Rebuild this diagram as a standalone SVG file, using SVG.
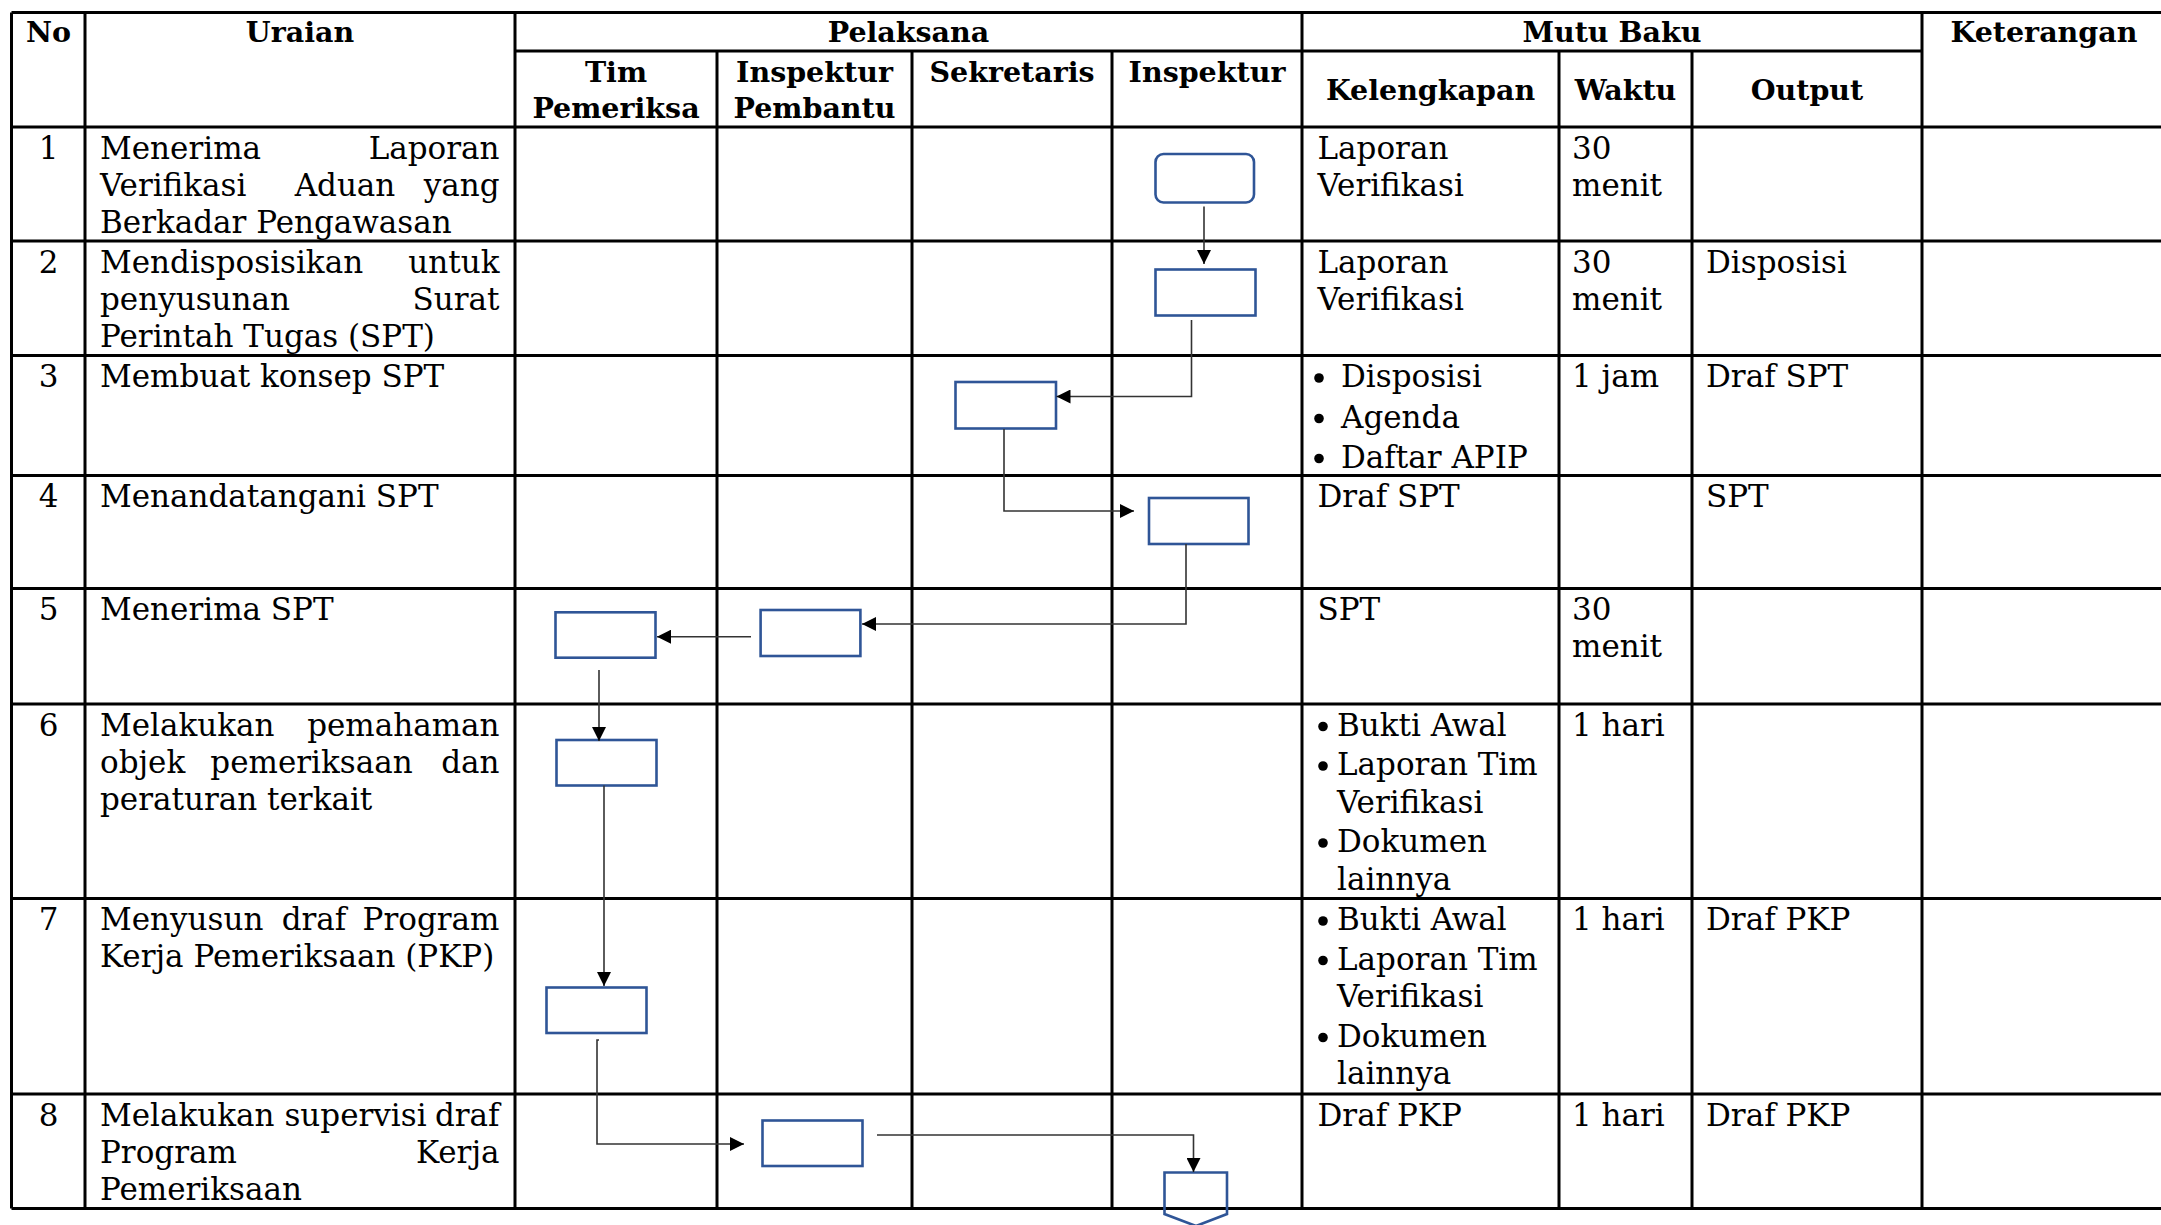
<svg xmlns="http://www.w3.org/2000/svg" width="2161" height="1225" viewBox="0 0 2161 1225">
  <style>
    .grid { fill: none; stroke: #000; stroke-width: 3; }
    .hd { font-family: "DejaVu Serif", "Liberation Serif", serif; font-weight: bold; font-size: 28.5px; fill: #000; text-anchor: middle; }
    .tx { font-family: "DejaVu Serif", "Liberation Serif", serif; font-size: 31px; fill: #000; }
    .mid { text-anchor: middle; }
    .end { text-anchor: end; }
    .dot { fill: #000; }
    .box { fill: #fff; stroke: #2F5597; stroke-width: 2.6; }
    .link { fill: none; stroke: #333; stroke-width: 1.6; marker-end: url(#arrow); }
  </style>
  <defs>
    <marker id="arrow" viewBox="0 0 10 10" refX="10" refY="5" markerUnits="userSpaceOnUse" markerWidth="15" markerHeight="14" orient="auto">
      <path d="M0,0 L10,5 L0,10 z" fill="#000"/>
    </marker>
  </defs>
  <rect width="2161" height="1225" fill="#fff"/>

  <!-- table grid -->
  <g id="table-grid">
    <path class="grid" d="M11.5 12.5 H2166 M515 51 H1922 M11.5 127 H2166 M11.5 241 H2166 M11.5 355.5 H2166 M11.5 475.5 H2166 M11.5 588.5 H2166 M11.5 704 H2166 M11.5 898.5 H2166 M11.5 1094 H2166 M11.5 1208.5 H2166"/>
    <path class="grid" d="M11.5 12.5 V1208.5 M85 12.5 V1208.5 M515 12.5 V1208.5 M717 51 V1208.5 M912 51 V1208.5 M1112 51 V1208.5 M1302 12.5 V1208.5 M1559 51 V1208.5 M1692 51 V1208.5 M1922 12.5 V1208.5 M2166 12.5 V1208.5"/>
  </g>

  <!-- header -->
  <g id="header">
    <text class="hd" x="48.5" y="41.5">No</text>
    <text class="hd" x="300" y="41.5">Uraian</text>
    <text class="hd" x="908.5" y="41.5">Pelaksana</text>
    <text class="hd" x="1612" y="41.5">Mutu Baku</text>
    <text class="hd" x="2044" y="41.5">Keterangan</text>
    <text class="hd" x="616" y="82">Tim</text>
    <text class="hd" x="616" y="118">Pemeriksa</text>
    <text class="hd" x="814.5" y="82">Inspektur</text>
    <text class="hd" x="814.5" y="118">Pembantu</text>
    <text class="hd" x="1012" y="82">Sekretaris</text>
    <text class="hd" x="1207" y="82">Inspektur</text>
    <text class="hd" x="1430.5" y="100">Kelengkapan</text>
    <text class="hd" x="1625.5" y="100">Waktu</text>
    <text class="hd" x="1807" y="100">Output</text>
  </g>

  <!-- list bullets in the Kelengkapan column -->
  <g id="bullets">
    <circle class="dot" cx="1319" cy="378" r="4.8"/>
    <circle class="dot" cx="1319" cy="418.5" r="4.8"/>
    <circle class="dot" cx="1319" cy="458.5" r="4.8"/>
    <circle class="dot" cx="1323" cy="726.5" r="4.8"/>
    <circle class="dot" cx="1323" cy="766" r="4.8"/>
    <circle class="dot" cx="1323" cy="843" r="4.8"/>
    <circle class="dot" cx="1323" cy="921" r="4.8"/>
    <circle class="dot" cx="1323" cy="960.5" r="4.8"/>
    <circle class="dot" cx="1323" cy="1037.5" r="4.8"/>
  </g>

  <!-- row texts -->
  <g id="row-1">
    <text class="tx mid" x="48.5" y="158.5">1</text>
    <text class="tx" x="100" y="158.5">Menerima</text>
    <text class="tx end" x="499.5" y="158.5">Laporan</text>
    <text class="tx" x="100" y="195.7">Verifikasi</text>
    <text class="tx mid" x="345" y="195.7">Aduan</text>
    <text class="tx end" x="499.5" y="195.7">yang</text>
    <text class="tx" x="100" y="232.9">Berkadar Pengawasan</text>
    <text class="tx" x="1317.5" y="158.5">Laporan</text>
    <text class="tx" x="1317.5" y="195.7">Verifikasi</text>
    <text class="tx" x="1572" y="158.5">30</text>
    <text class="tx" x="1572" y="195.7">menit</text>
  </g>
  <g id="row-2">
    <text class="tx mid" x="48.5" y="272.5">2</text>
    <text class="tx" x="100" y="272.5">Mendisposisikan</text>
    <text class="tx end" x="499.5" y="272.5">untuk</text>
    <text class="tx" x="100" y="309.7">penyusunan</text>
    <text class="tx end" x="499.5" y="309.7">Surat</text>
    <text class="tx" x="100" y="346.9">Perintah Tugas (SPT)</text>
    <text class="tx" x="1317.5" y="272.5">Laporan</text>
    <text class="tx" x="1317.5" y="309.7">Verifikasi</text>
    <text class="tx" x="1572" y="272.5">30</text>
    <text class="tx" x="1572" y="309.7">menit</text>
    <text class="tx" x="1706" y="272.5">Disposisi</text>
  </g>
  <g id="row-3">
    <text class="tx mid" x="48.5" y="387">3</text>
    <text class="tx" x="100" y="387">Membuat konsep SPT</text>
    <text class="tx" x="1341" y="387">Disposisi</text>
    <text class="tx" x="1341" y="427.5">Agenda</text>
    <text class="tx" x="1341" y="467.5">Daftar APIP</text>
    <text class="tx" x="1572" y="387">1 jam</text>
    <text class="tx" x="1706" y="387">Draf SPT</text>
  </g>
  <g id="row-4">
    <text class="tx mid" x="48.5" y="507">4</text>
    <text class="tx" x="100" y="507">Menandatangani SPT</text>
    <text class="tx" x="1317.5" y="507">Draf SPT</text>
    <text class="tx" x="1706" y="507">SPT</text>
  </g>
  <g id="row-5">
    <text class="tx mid" x="48.5" y="620">5</text>
    <text class="tx" x="100" y="620">Menerima SPT</text>
    <text class="tx" x="1317.5" y="620">SPT</text>
    <text class="tx" x="1572" y="620">30</text>
    <text class="tx" x="1572" y="657.2">menit</text>
  </g>
  <g id="row-6">
    <text class="tx mid" x="48.5" y="735.5">6</text>
    <text class="tx" x="100" y="735.5">Melakukan</text>
    <text class="tx end" x="499.5" y="735.5">pemahaman</text>
    <text class="tx" x="100" y="772.7">objek</text>
    <text class="tx mid" x="311.5" y="772.7">pemeriksaan</text>
    <text class="tx end" x="499.5" y="772.7">dan</text>
    <text class="tx" x="100" y="809.9">peraturan terkait</text>
    <text class="tx" x="1337" y="735.5">Bukti Awal</text>
    <text class="tx" x="1337" y="775">Laporan Tim</text>
    <text class="tx" x="1337" y="812.5">Verifikasi</text>
    <text class="tx" x="1337" y="852">Dokumen</text>
    <text class="tx" x="1337" y="889.5">lainnya</text>
    <text class="tx" x="1572" y="735.5">1 hari</text>
  </g>
  <g id="row-7">
    <text class="tx mid" x="48.5" y="930">7</text>
    <text class="tx" x="100" y="930">Menyusun</text>
    <text class="tx mid" x="314" y="930">draf</text>
    <text class="tx end" x="499.5" y="930">Program</text>
    <text class="tx" x="100" y="967.2">Kerja Pemeriksaan (PKP)</text>
    <text class="tx" x="1337" y="930">Bukti Awal</text>
    <text class="tx" x="1337" y="969.5">Laporan Tim</text>
    <text class="tx" x="1337" y="1007">Verifikasi</text>
    <text class="tx" x="1337" y="1046.5">Dokumen</text>
    <text class="tx" x="1337" y="1084">lainnya</text>
    <text class="tx" x="1572" y="930">1 hari</text>
    <text class="tx" x="1706" y="930">Draf PKP</text>
  </g>
  <g id="row-8">
    <text class="tx mid" x="48.5" y="1125.5">8</text>
    <text class="tx" x="100" y="1125.5">Melakukan</text>
    <text class="tx mid" x="355.5" y="1125.5">supervisi</text>
    <text class="tx end" x="499.5" y="1125.5">draf</text>
    <text class="tx" x="100" y="1162.7">Program</text>
    <text class="tx end" x="499.5" y="1162.7">Kerja</text>
    <text class="tx" x="100" y="1199.9">Pemeriksaan</text>
    <text class="tx" x="1317.5" y="1125.5">Draf PKP</text>
    <text class="tx" x="1572" y="1125.5">1 hari</text>
    <text class="tx" x="1706" y="1125.5">Draf PKP</text>
  </g>

  <!-- flow nodes -->
  <g id="node-1"><rect class="box" x="1155.5" y="154" width="98.5" height="48.5" rx="8"/></g>
  <g id="node-2"><rect class="box" x="1155.5" y="269.5" width="100" height="46"/></g>
  <g id="node-3"><rect class="box" x="955.5" y="382" width="100.5" height="46.5"/></g>
  <g id="node-4"><rect class="box" x="1149" y="498" width="99.5" height="46"/></g>
  <g id="node-5a"><rect class="box" x="555.5" y="612.3" width="100" height="45.4"/></g>
  <g id="node-5b"><rect class="box" x="760.6" y="610" width="99.8" height="46"/></g>
  <g id="node-6"><rect class="box" x="556.5" y="740" width="100" height="45.5"/></g>
  <g id="node-7"><rect class="box" x="546.5" y="987.5" width="100" height="45.5"/></g>
  <g id="node-8"><rect class="box" x="762.5" y="1120.5" width="100" height="45.5"/></g>
  <g id="node-offpage"><polygon points="1164.5,1172.5 1227,1172.5 1227,1214 1196,1226 1164.5,1214" fill="none" stroke="#2F5597" stroke-width="2.6"/></g>

  <!-- connectors -->
  <g id="connectors">
    <path class="link" d="M1204 206.5 V264"/>
    <path class="link" d="M1191.5 320 V396.5 H1056.5"/>
    <path class="link" d="M1004 429 V511 H1134"/>
    <path class="link" d="M1186 544 V624 H862"/>
    <path class="link" d="M751 636.7 H657"/>
    <path class="link" d="M599 670 V741"/>
    <path class="link" d="M604 785.5 V986"/>
    <path class="link" d="M599 1040 H597 V1144 H744"/>
    <path class="link" d="M877 1135 H1193.5 V1172"/>
  </g>
</svg>
